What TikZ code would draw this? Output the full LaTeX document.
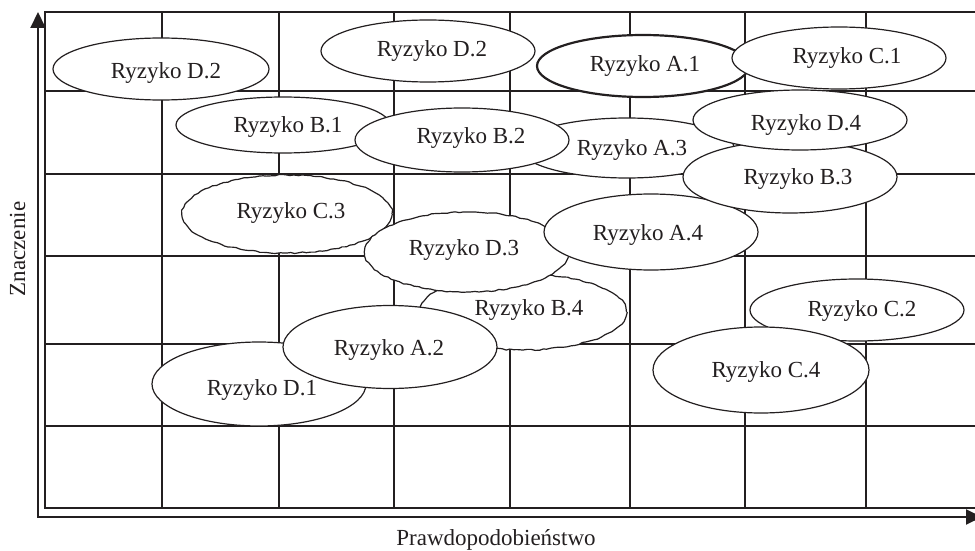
\documentclass[tikz,border=0pt]{standalone}
\usepackage{fontspec}
\setmainfont{Liberation Serif}
\usetikzlibrary{shapes.geometric,arrows.meta,decorations.pathmorphing}
\definecolor{ink}{HTML}{231F20}

% one risk: ellipse (name, extra style, centre, width, height) plus its label
\newcommand{\riskoval}[7]{%
  \node[risk,#2,minimum width=#4,minimum height=#5] (#1) at (#3) {};
  \node[risktext] (#1-label) at (#6) {#7};}

\begin{document}
\begin{tikzpicture}[x=1pt,y=-1pt,
  gridline/.style={line width=1.2pt, draw=ink},
  midline/.style={line width=2pt, draw=ink},
  frameline/.style={line width=2pt, draw=ink, line join=miter},
  axis/.style={line width=2pt, draw=ink, line join=miter,
    {Triangle[length=16pt,width=15pt]}-{Triangle[length=16pt,width=15pt]}},
  risk/.style={ellipse, draw=ink, fill=white, line width=1.2pt, inner sep=0pt, outer sep=0pt},
  rough/.style={decorate, decoration={random steps, segment length=4pt, amplitude=0.7pt}},
  bold/.style={line width=2.2pt},
  risktext/.style={anchor=base, inner sep=0pt, text=ink, font=\fontsize{23}{27}\selectfont}]

\useasboundingbox (0,0) rectangle (975,551);
\clip (0,0) rectangle (975,551);
\pgfmathsetseed{4711}

% grid
\foreach \y in {91,174,344,426} \draw[gridline] (45,\y) -- (975,\y);
\foreach \x in {162,279,394,630,745,866} \draw[gridline] (\x,12) -- (\x,508);
\draw[midline] (45,256) -- (975,256);
\draw[midline] (510,12) -- (510,508);
\draw[frameline] (975,12) -- (45,12) -- (45,508) -- (975,508);

% axes
\coordinate (origin) at (38,517);
\coordinate (ytip) at (38,12);
\coordinate (xtip) at (982,517);
\draw[axis] (ytip) -- (origin) -- (xtip);

\node[risktext, rotate=90] (ylabel) at (25,249) {Znaczenie};
\node[risktext] (xlabel) at (496,545) {Prawdopodobieństwo};

% risks, back to front
\riskoval{c3}{rough}{287,214}{210pt}{78pt}{291,218}{Ryzyko C.3}
\riskoval{b4}{rough}{523,312}{207pt}{76pt}{529,315}{Ryzyko B.4}
\riskoval{d1}{}{259,384}{214pt}{84pt}{262,395}{Ryzyko D.1}
\riskoval{d3}{rough}{467,252}{204pt}{80pt}{464,255}{Ryzyko D.3}
\riskoval{a2}{}{390,347}{214pt}{83pt}{389,355}{Ryzyko A.2}
\riskoval{a3}{}{627,148}{214pt}{60pt}{632,155}{Ryzyko A.3}
\riskoval{a4}{}{651,232}{214pt}{76pt}{648,240}{Ryzyko A.4}
\riskoval{b3}{}{790,177}{214pt}{72pt}{798,184}{Ryzyko B.3}
\riskoval{d4}{}{800,120}{214pt}{60pt}{806,130}{Ryzyko D.4}
\riskoval{b1}{}{283,125}{214pt}{56pt}{288,132}{Ryzyko B.1}
\riskoval{b2}{}{462,140}{214pt}{64pt}{471,143}{Ryzyko B.2}
\riskoval{d2a}{}{161,69}{216pt}{62pt}{166,78}{Ryzyko D.2}
\riskoval{d2b}{}{428,51}{214pt}{62pt}{432,57}{Ryzyko D.2}
\riskoval{a1}{bold}{643,66}{212pt}{62pt}{645,72}{Ryzyko A.1}
\riskoval{c1}{}{839,58}{214pt}{62pt}{847,64}{Ryzyko C.1}
\riskoval{c2}{}{857,310}{214pt}{62pt}{862,316}{Ryzyko C.2}
\riskoval{c4}{}{761,370}{216pt}{86pt}{766,377}{Ryzyko C.4}

\end{tikzpicture}
\end{document}
